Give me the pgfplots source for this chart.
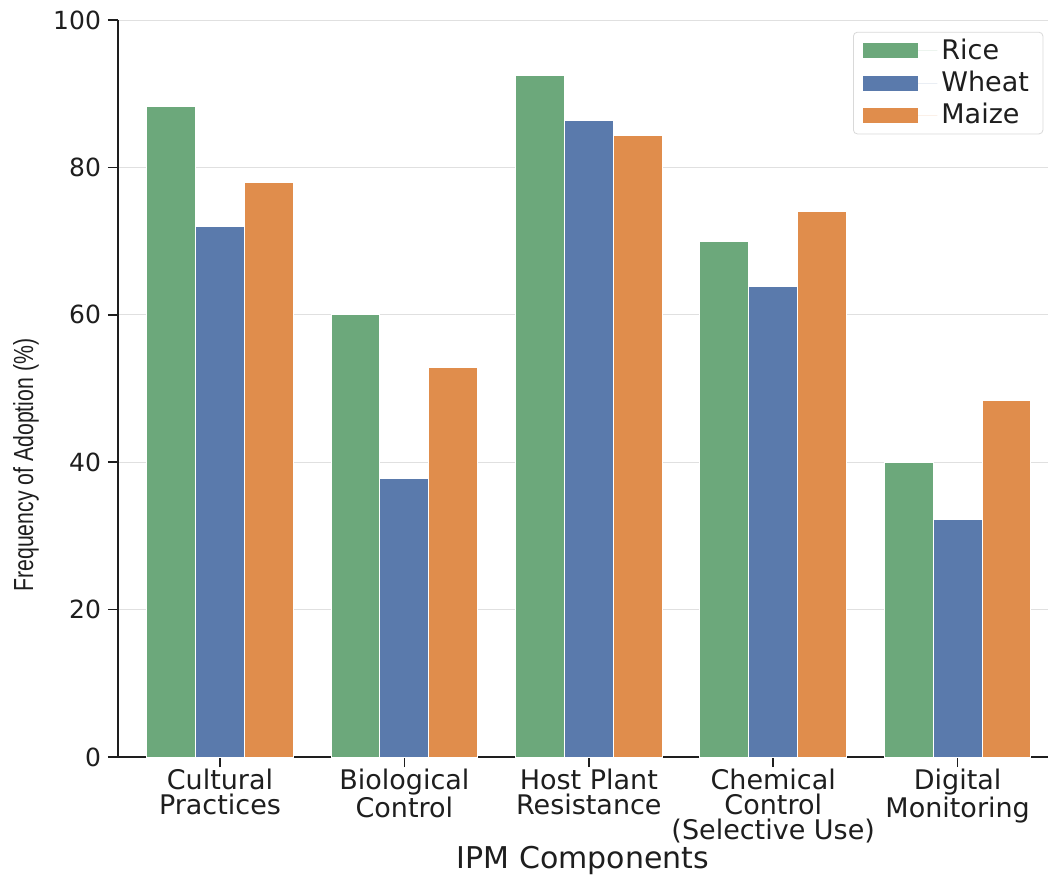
\documentclass[border=0pt]{standalone}
\usepackage{pgfplots}
\pgfplotsset{compat=1.18}
\usepackage{fontspec}
\setmainfont{DejaVu Sans}
\newfontfamily\labfont{Liberation Sans}
\definecolor{rice}{RGB}{108,168,123}
\definecolor{wheat}{RGB}{90,122,172}
\definecolor{maize}{RGB}{224,141,76}
\definecolor{txt}{RGB}{30,30,30}
\begin{document}
\begin{tikzpicture}
  \begin{axis}[
    scale only axis,
    width=465pt, height=368.5pt,
    ybar=0pt,
    bar width=0.265,
    xmin=-0.553, xmax=4.49,
    ymin=0, ymax=100,
    axis lines=left,
    axis line style={-, line width=0.8pt, color=txt},
    xtick=data,
    xticklabels={{Cultural\\Practices},{Biological\\Control},{Host Plant\\Resistance},{Chemical\\Control\\(Selective Use)},{Digital\\Monitoring}},
    ytick={0,20,40,60,80,100},
    tick align=outside,
    major tick length=5pt,
    tick style={line width=0.8pt, color=txt},
    ymajorgrids,
    grid style={line width=0.5pt, color=black!12},
    /pgf/number format/assume math mode=true,
    yticklabel style={font=\fontsize{12.5}{14}\selectfont, color=txt},
    xticklabel style={align=center, font=\fontsize{13.5}{12.5}\selectfont, color=txt, yshift=2.5pt},
    xlabel={IPM Components},
    xlabel style={at={(rel axis cs:0.5,0)}, anchor=center, yshift=-51.5pt, font=\fontsize{15}{17}\selectfont, color=txt},
    ylabel={\scalebox{0.77}[1]{\labfont Frequency of Adoption (\%)}},
    ylabel style={at={(rel axis cs:0,0.396)}, anchor=center, yshift=46pt, font=\fontsize{13.8}{15}\selectfont, color=txt},
    legend style={at={(rel axis cs:0.995,0.984)}, anchor=north east, draw=black!15, rounded corners=2pt,
      font=\fontsize{13.5}{16}\selectfont, text=txt, row sep=0.3pt, inner xsep=5pt, inner ysep=1.5pt},
    legend image code/.code={
      \fill[#1, draw=none, sharp corners] (0pt,-3.75pt) rectangle (27.5pt,3.75pt);
      \path[draw=none] (0pt,0pt) -- (37pt,0pt);},
    legend cell align=left,
    every axis plot/.append style={draw=white, line width=0.5pt},
    ]
    \addplot[fill=rice] coordinates {(0,88.3) (1,60.0) (2,92.5) (3,70.0) (4,40.0)};
    \addplot[fill=wheat] coordinates {(0,72.0) (1,37.8) (2,86.3) (3,63.9) (4,32.2)};
    \addplot[fill=maize] coordinates {(0,78.0) (1,52.8) (2,84.3) (3,74.0) (4,48.4)};
    \legend{Rice,Wheat,Maize}
  \end{axis}
  \pgfresetboundingbox
  \path (-59pt,-59pt) rectangle (465pt,378.5pt);
\end{tikzpicture}
\end{document}
